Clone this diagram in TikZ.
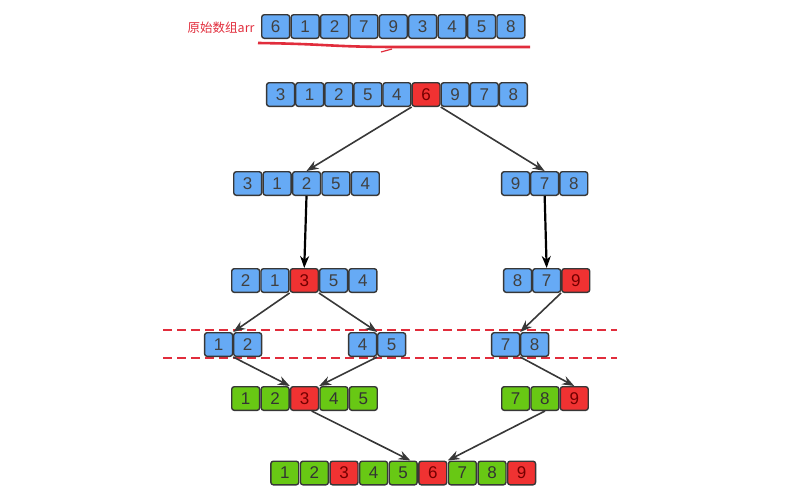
\documentclass[tikz,border=0pt]{standalone}
\usepackage{fontspec}
\setmainfont{Liberation Sans}
\newfontfamily\cjkfont{Noto Sans CJK SC}
\usetikzlibrary{arrows.meta,calc}

\definecolor{cellblue}{RGB}{102,170,245}
\definecolor{cellred}{RGB}{240,50,50}
\definecolor{cellgreen}{RGB}{104,200,20}
\definecolor{cellline}{RGB}{55,55,55}
\definecolor{marker}{RGB}{225,45,60}

\tikzset{
  cell/.style={draw=cellline,line width=1.4pt,rounded corners=2.5pt,
    minimum width=27.9pt,minimum height=23.6pt,inner sep=0pt,
    font=\fontsize{17}{17}\selectfont},
  bluecell/.style={cell,fill=cellblue,text=black!75},
  redcell/.style={cell,fill=cellred,text=red!45!black},
  greencell/.style={cell,fill=cellgreen,text=black!80},
  split/.style={-{Stealth[length=12pt,width=9pt]},draw=black!78,line width=1.6pt},
  pick/.style={-{Stealth[length=12pt,width=9pt]},draw=black,line width=2.2pt},
  level/.style={draw=marker,dashed,dash pattern=on 9pt off 5pt,line width=1.5pt}
}

\begin{document}
\begin{tikzpicture}[x=1pt,y=-1pt]
  \useasboundingbox (0,0) rectangle (787,498);
  % the original array
  \node [anchor=east,text=marker,font=\cjkfont\fontsize{12.5}{12.5}\selectfont] (name) at (258,28) {原始数组arr};
  \foreach \v [count=\i] in {6,1,2,7,9,3,4,5,8}
    \node [bluecell] (arr-\i) at ({261+(\i-0.5)*29.4},26.5) {\v};
  \draw [marker,line width=2.6pt] (258,43) .. controls (330,44) and (330,47) .. (400,47) -- (530,47);
  \draw [marker,line width=1.2pt] (381,52) -- (392,49);
  % first partition, pivot 6
  \foreach \v/\s [count=\i] in {3/bluecell,1/bluecell,2/bluecell,5/bluecell,4/bluecell,6/redcell,9/bluecell,7/bluecell,8/bluecell}
    \node [\s] (s1-\i) at ({266+(\i-0.5)*29.1},94.5) {\v};
  \foreach \v [count=\i] in {3,1,2,5,4}
    \node [bluecell] (s2l-\i) at ({233+(\i-0.5)*29.4},183.5) {\v};
  \foreach \v [count=\i] in {9,7,8}
    \node [bluecell] (s2r-\i) at ({501+(\i-0.5)*29.1},183.5) {\v};
  % second partition, pivots 3 and 9
  \foreach \v/\s [count=\i] in {2/bluecell,1/bluecell,3/redcell,5/bluecell,4/bluecell}
    \node [\s] (s3l-\i) at ({231+(\i-0.5)*29.3},280.5) {\v};
  \foreach \v/\s [count=\i] in {8/bluecell,7/bluecell,9/redcell}
    \node [\s] (s3r-\i) at ({503+(\i-0.5)*29.1},280.5) {\v};
  % the small parts
  \draw [level] (163,330) -- (617,330);
  \draw [level] (163,358) -- (617,358);
  \foreach \v [count=\i] in {1,2}
    \node [bluecell] (s4a-\i) at ({204+(\i-0.5)*29.1},344.5) {\v};
  \foreach \v [count=\i] in {4,5}
    \node [bluecell] (s4b-\i) at ({348+(\i-0.5)*29.1},344.5) {\v};
  \foreach \v [count=\i] in {7,8}
    \node [bluecell] (s4c-\i) at ({491+(\i-0.5)*29.1},344.5) {\v};
  % merged back
  \foreach \v/\s [count=\i] in {1/greencell,2/greencell,3/redcell,4/greencell,5/greencell}
    \node [\s] (s5l-\i) at ({231+(\i-0.5)*29.4},398.5) {\v};
  \foreach \v/\s [count=\i] in {7/greencell,8/greencell,9/redcell}
    \node [\s] (s5r-\i) at ({501+(\i-0.5)*29.3},398.5) {\v};
  \foreach \v/\s [count=\i] in {1/greencell,2/greencell,3/redcell,4/greencell,5/greencell,6/redcell,7/greencell,8/greencell,9/redcell}
    \node [\s] (s6-\i) at ({270+(\i-0.5)*29.6},473) {\v};
  % arrows
  \draw [split] (s1-5.south east) -- (s2l-3.north);
  \draw [split] (s1-6.south east) -- (s2r-2.north);
  \draw [pick] (s2l-3.south) -- (s3l-3.north);
  \draw [pick] (s2r-2.south) -- (s3r-2.north);
  \draw [split] (s3l-3.south west) -- (s4a-1.north east);
  \draw [split] (s3l-3.south east) -- (s4b-1.north east);
  \draw [split] (s3r-3.south west) -- (s4c-1.north east);
  \draw [split] (s4a-1.south east) -- (s5l-3.north west);
  \draw [split] (s4b-1.south east) -- (s5l-3.north east);
  \draw [split] (s4c-1.south east) -- (s5r-3.north);
  \draw [split] (s5l-3.-60) -- (s6-5.60);
  \draw [split] (s5r-2.south) -- (s6-7.north west);
\end{tikzpicture}
\end{document}
